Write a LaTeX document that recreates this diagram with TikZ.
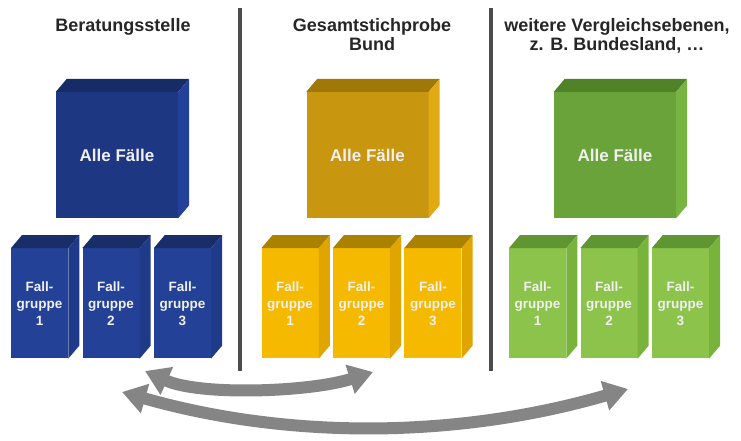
\documentclass[tikz,border=0pt]{standalone}
\usepackage{fontspec}
\setmainfont{Liberation Sans}
\usetikzlibrary{arrows.meta,positioning}

\definecolor{bluebig}{HTML}{1E3782}
\definecolor{bluebigtop}{HTML}{172B66}
\definecolor{bluebigside}{HTML}{24419A}
\definecolor{bluesmall}{HTML}{234196}
\definecolor{bluesmalltop}{HTML}{192D69}
\definecolor{bluesmallside}{HTML}{1E3A88}
\definecolor{goldbig}{HTML}{C8960F}
\definecolor{goldbigtop}{HTML}{A07808}
\definecolor{goldbigside}{HTML}{E1AA14}
\definecolor{goldsmall}{HTML}{F5B900}
\definecolor{goldsmalltop}{HTML}{AA8200}
\definecolor{goldsmallside}{HTML}{E1A500}
\definecolor{greenbig}{HTML}{6AA33A}
\definecolor{greenbigtop}{HTML}{508228}
\definecolor{greenbigside}{HTML}{78B441}
\definecolor{greensmall}{HTML}{8CC34B}
\definecolor{greensmalltop}{HTML}{5F9632}
\definecolor{greensmallside}{HTML}{78B43C}

% top and side face of a box node: node, top colour, side colour
\newcommand{\cubesides}[3]{%
  \fill[#2] (#1.north west) -- ++(11,-13) -- ([shift={(11,-13)}]#1.north east) -- (#1.north east) -- cycle;
  \fill[#3] (#1.north east) -- ++(11,-13) -- ([shift={(11,-13)}]#1.south east) -- (#1.south east) -- cycle;
}

\begin{document}
\begin{tikzpicture}[
  x=1pt, y=-1pt,
  title/.style={anchor=north, align=center, inner sep=0pt, text=black!85,
    font=\bfseries\fontsize{18}{19.5}\selectfont},
  bigbox/.style={minimum width=122pt, minimum height=126pt, inner sep=0pt,
    text=white!94!black, font=\bfseries\fontsize{17}{20}\selectfont},
  smallbox/.style={minimum width=57pt, minimum height=110pt, inner sep=0pt,
    align=center, text=white!94!black, font=\bfseries\fontsize{13.5}{17}\selectfont},
  divider/.style={line width=4.5pt, draw=black!70},
  compare/.style={line width=12pt, draw=black!48,
    {Triangle[length=24pt,width=29pt]}-{Triangle[length=24pt,width=29pt]}}
]
\useasboundingbox[fill=white] (0,0) rectangle (741,440);

% titles
\node[title] (tBer) at (123,18) {Beratungsstelle};
\node[title] (tGes) at (372,18) {Gesamtstichprobe\\Bund};
\node[title] (tWei) at (617,18) {weitere Vergleichsebenen,\\z. B. Bundesland, \dots};

% dividers
\coordinate (d1top) at (240,8);
\coordinate (d1bot) at (240,371);
\coordinate (d2top) at (491,8);
\coordinate (d2bot) at (491,371);
\draw[divider] (d1top) -- (d1bot);
\draw[divider] (d2top) -- (d2bot);

% Beratungsstelle
\node[bigbox, fill=bluebig] (alleB) at (117,155) {Alle Fälle};
\node[smallbox, fill=bluesmall, below=30pt of alleB, xshift=-6pt] (fgB2) {Fall-\\gruppe\\2};
\node[smallbox, fill=bluesmall, left=14pt of fgB2] (fgB1) {Fall-\\gruppe\\1};
\node[smallbox, fill=bluesmall, right=14pt of fgB2] (fgB3) {Fall-\\gruppe\\3};
\cubesides{alleB}{bluebigtop}{bluebigside}
\cubesides{fgB1}{bluesmalltop}{bluesmallside}
\cubesides{fgB2}{bluesmalltop}{bluesmallside}
\cubesides{fgB3}{bluesmalltop}{bluesmallside}

% Gesamtstichprobe Bund
\node[bigbox, fill=goldbig] (alleG) at (367.5,155) {Alle Fälle};
\node[smallbox, fill=goldsmall, below=30pt of alleG, xshift=-6pt] (fgG2) {Fall-\\gruppe\\2};
\node[smallbox, fill=goldsmall, left=14pt of fgG2] (fgG1) {Fall-\\gruppe\\1};
\node[smallbox, fill=goldsmall, right=14pt of fgG2] (fgG3) {Fall-\\gruppe\\3};
\cubesides{alleG}{goldbigtop}{goldbigside}
\cubesides{fgG1}{goldsmalltop}{goldsmallside}
\cubesides{fgG2}{goldsmalltop}{goldsmallside}
\cubesides{fgG3}{goldsmalltop}{goldsmallside}

% weitere Vergleichsebenen
\node[bigbox, fill=greenbig] (alleW) at (615,155) {Alle Fälle};
\node[smallbox, fill=greensmall, below=30pt of alleW, xshift=-6pt] (fgW2) {Fall-\\gruppe\\2};
\node[smallbox, fill=greensmall, left=14pt of fgW2] (fgW1) {Fall-\\gruppe\\1};
\node[smallbox, fill=greensmall, right=14pt of fgW2] (fgW3) {Fall-\\gruppe\\3};
\cubesides{alleW}{greenbigtop}{greenbigside}
\cubesides{fgW1}{greensmalltop}{greensmallside}
\cubesides{fgW2}{greensmalltop}{greensmallside}
\cubesides{fgW3}{greensmalltop}{greensmallside}

% comparison arrows
\coordinate (lowL) at (122,392);
\coordinate (lowR) at (628,389);
\coordinate (upL) at (145,371);
\coordinate (upR) at (373,372);
\draw[compare] (lowL) .. controls (291,440) and (459,438) .. (lowR);
\draw[compare] (upL) .. controls (200,396) and (310,392) .. (upR);
\end{tikzpicture}
\end{document}
